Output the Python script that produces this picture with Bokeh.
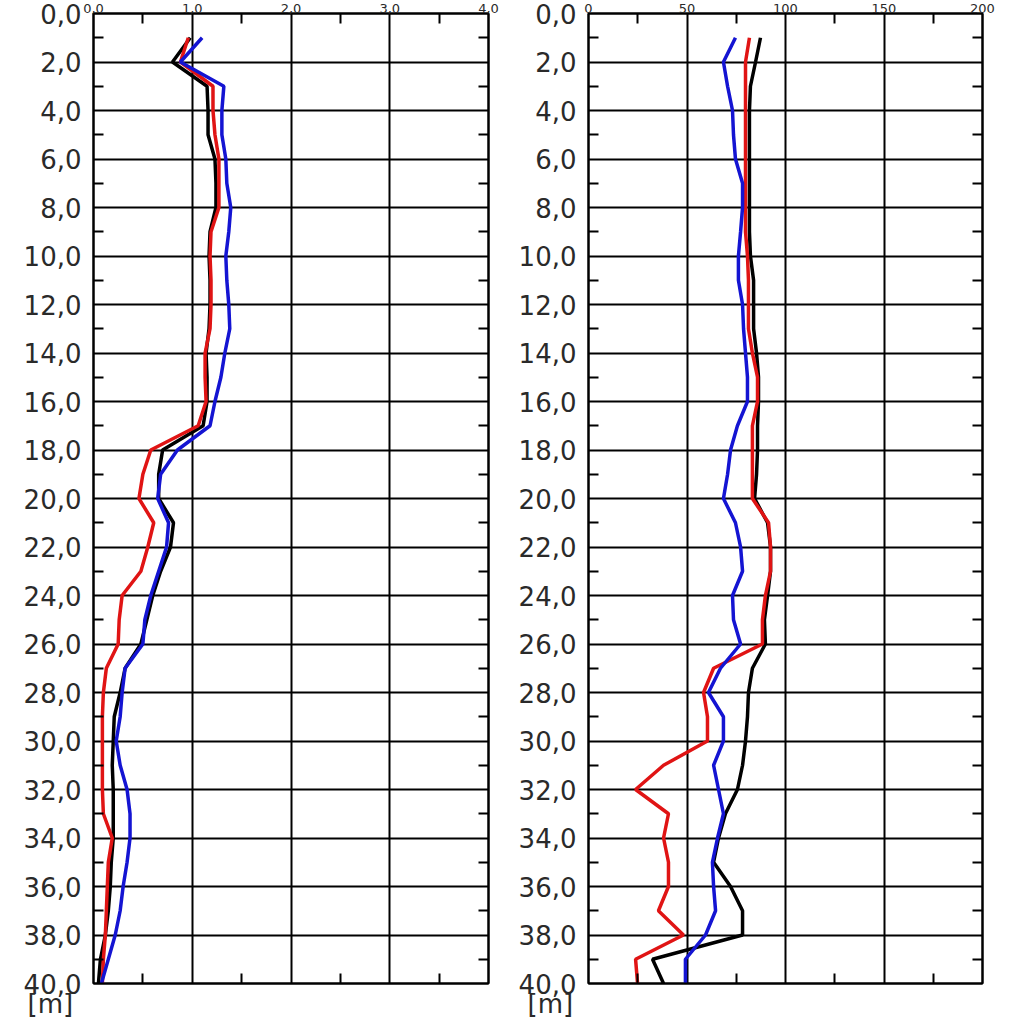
from bokeh.plotting import figure
from bokeh.layouts import row
from bokeh.models import FixedTicker, LinearAxis, Range1d, Title
from bokeh.embed import file_html
from bokeh.resources import INLINE

# ---------------- data ----------------
depth = list(range(1, 41))

left_black = [0.98, 0.80, 1.15, 1.16, 1.16, 1.23, 1.24, 1.24, 1.18, 1.17,
              1.18, 1.18, 1.17, 1.14, 1.15, 1.15, 1.11, 0.70, 0.66, 0.66,
              0.81, 0.78, 0.68, 0.60, 0.54, 0.48, 0.32, 0.27, 0.21, 0.20,
              0.19, 0.20, 0.20, 0.20, 0.18, 0.17, 0.15, 0.12, 0.07, 0.05]
left_red = [0.96, 0.88, 1.21, 1.21, 1.23, 1.27, 1.27, 1.27, 1.19, 1.18,
            1.19, 1.19, 1.18, 1.13, 1.13, 1.14, 1.06, 0.58, 0.50, 0.46,
            0.61, 0.55, 0.48, 0.29, 0.26, 0.25, 0.13, 0.10, 0.09, 0.09,
            0.09, 0.09, 0.10, 0.19, 0.15, 0.14, 0.13, 0.12, 0.10, 0.09]
left_blue = [1.10, 0.88, 1.32, 1.30, 1.30, 1.34, 1.35, 1.39, 1.37, 1.34,
             1.35, 1.37, 1.38, 1.33, 1.29, 1.23, 1.18, 0.85, 0.68, 0.65,
             0.76, 0.74, 0.66, 0.58, 0.52, 0.50, 0.32, 0.29, 0.27, 0.23,
             0.27, 0.34, 0.37, 0.37, 0.34, 0.30, 0.27, 0.22, 0.15, 0.08]

right_black = [87.3, 84.8, 82.2, 81.7, 81.7, 81.7, 81.7, 81.7, 81.7, 82.2,
               83.8, 83.8, 83.8, 85.3, 86.3, 86.3, 85.8, 85.8, 85.3, 84.3,
               90.9, 92.4, 92.4, 90.9, 89.3, 89.8, 83.2, 81.2, 80.7, 79.7,
               78.2, 75.6, 69.5, 66.0, 63.5, 72.1, 78.2, 78.2, 32.5, 38.1]
right_red = [81.7, 79.7, 79.7, 79.7, 79.7, 79.7, 79.7, 79.7, 79.7, 80.7,
             81.2, 81.2, 81.2, 83.2, 85.8, 85.8, 83.2, 83.2, 83.2, 83.2,
             91.4, 92.4, 92.4, 89.8, 88.3, 88.3, 63.5, 58.4, 60.4, 60.4,
             38.1, 23.9, 40.6, 38.1, 40.6, 40.6, 35.5, 48.2, 23.9, 24.9]
right_blue = [74.6, 68.5, 70.6, 73.1, 73.6, 74.6, 78.2, 78.2, 77.2, 76.1,
              76.1, 78.2, 78.7, 79.7, 80.7, 80.7, 75.6, 72.1, 70.6, 68.5,
              74.6, 77.2, 78.2, 73.1, 73.6, 77.2, 67.0, 60.9, 68.5, 68.5,
              63.5, 66.0, 68.5, 65.5, 62.9, 63.5, 64.5, 59.4, 49.2, 49.2]

depth_ticks = list(range(0, 41, 2))
depth_minor = list(range(1, 40, 2))
depth_labels = ["%d,0" % d for d in depth_ticks]

left_x_ticks = [0, 1, 2, 3, 4]
left_x_minor = [0.5, 1.5, 2.5, 3.5]
left_x_labels = ["0,0", "1,0", "2,0", "3,0", "4,0"]

right_x_ticks = [0, 50, 100, 150, 200]
right_x_minor = [25, 75, 125, 175]
right_x_labels = ["0", "50", "100", "150", "200"]

unit_label = "[m]"

series_colors = ["#000000", "#e01414", "#1414d2"]

FONT = "DejaVu Sans"
TEXT_COLOR = "#2a2a2a"


def make_panel(xs, x_ticks, x_minor, x_labels, x_end, width, mb_left, mb_right, unit_offset):
    p = figure(width=width, height=1024, output_backend="svg", toolbar_location=None,
               x_range=Range1d(0, x_end), y_range=Range1d(40, 0),
               x_axis_location="above", y_axis_location="left",
               min_border_left=mb_left, min_border_right=mb_right,
               min_border_top=0, min_border_bottom=41)
    p.background_fill_color = "white"
    p.border_fill_color = "white"
    p.outline_line_color = "black"
    p.outline_line_width = 2

    xt = FixedTicker(ticks=x_ticks, minor_ticks=x_minor)
    yt = FixedTicker(ticks=depth_ticks, minor_ticks=depth_minor)

    xa = p.xaxis[0]
    xa.ticker = xt
    xa.major_label_overrides = {t: l for t, l in zip(x_ticks, x_labels)}
    xa.major_label_text_font = FONT
    xa.major_label_text_font_size = "13px"
    xa.major_label_standoff = 1

    ya = p.yaxis[0]
    ya.ticker = yt
    ya.major_label_overrides = {t: l for t, l in zip(depth_ticks, depth_labels)}
    ya.major_label_text_font = FONT
    ya.major_label_text_font_size = "26px"
    ya.major_label_standoff = 12

    # extra tick-only axes on the right and bottom
    ra = LinearAxis(ticker=FixedTicker(ticks=[], minor_ticks=depth_minor))
    ba = LinearAxis(ticker=FixedTicker(ticks=[], minor_ticks=x_minor))
    p.add_layout(ra, "right")
    p.add_layout(ba, "below")

    for ax in [xa, ya, ra, ba]:
        ax.axis_line_color = "black"
        ax.axis_line_width = 2
        ax.major_tick_in = 0
        ax.major_tick_out = 0
        ax.minor_tick_in = 10
        ax.minor_tick_out = 0
        ax.minor_tick_line_color = "black"
        ax.minor_tick_line_width = 2
        ax.major_label_text_color = TEXT_COLOR
    for ax in [ra, ba]:
        ax.major_label_text_font_size = "1px"
        ax.major_label_standoff = 0

    p.xgrid.ticker = xt
    p.ygrid.ticker = yt
    for g in [p.xgrid[0], p.ygrid[0]]:
        g.grid_line_color = "black"
        g.grid_line_width = 2

    for vals, col in zip(xs, series_colors):
        p.line(vals, depth, line_color=col, line_width=3.5)

    # unit label below the depth labels
    p.add_layout(Title(text=unit_label, align="left", offset=unit_offset,
                       text_font=FONT, text_font_size="26px", text_font_style="normal",
                       text_color=TEXT_COLOR, standoff=7), "below")
    return p


p1 = make_panel([left_black, left_red, left_blue], left_x_ticks, left_x_minor,
                left_x_labels, 4, 510, 93, 22, -66)
p2 = make_panel([right_black, right_red, right_blue], right_x_ticks, right_x_minor,
                right_x_labels, 200, 509, 78, 37, -61)

layout = row(p1, p2)

html = file_html(layout, INLINE)
html = html.replace("<head>", "<head><style>html,body{margin:0;padding:0;background:white;}</style>", 1)
open("out.html", "w").write(html)
